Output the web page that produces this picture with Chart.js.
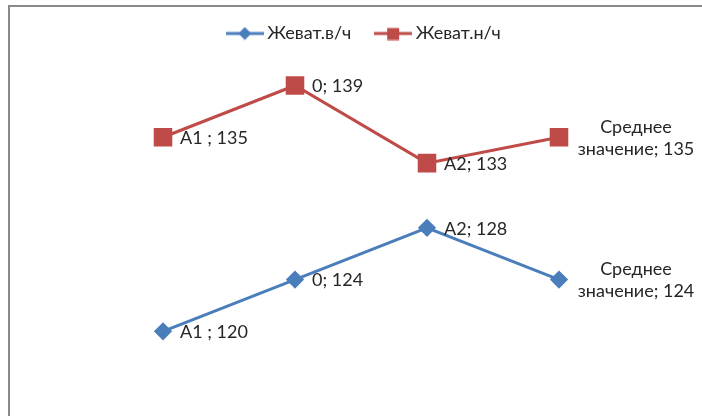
<!DOCTYPE html>
<html>
<head>
<meta charset="utf-8">
<script src="https://cdn.jsdelivr.net/npm/chart.js@4/dist/chart.umd.min.js"></script>
<style>
  html, body { margin: 0; padding: 0; background: #fff; overflow: hidden; }
  #frame {
    position: absolute; left: 8px; top: 5px; right: -10px; bottom: -10px;
    border-left: 2px solid #8a8a8a; border-top: 2px solid #8a8a8a;
  }
  #wrap { position: absolute; left: 0; top: 0; width: 702px; height: 416px; }
</style>
</head>
<body>
<div id="frame"></div>
<div id="wrap"><canvas id="bpChart"></canvas></div>
<script>
const categories = ['A1 ', '0', 'A2', ['Среднее', 'значение']];
const seriesNames = ['Жеват.в/ч', 'Жеват.н/ч'];
const upperValues = [120, 124, 128, 124];
const lowerValues = [135, 139, 133, 135];

const BLUE = '#4a7ebb';
const RED = '#be4b48';
const FONT = 'Lato, "Open Sans", sans-serif';

// little line+marker icons for the legend
function legendIcon(color, shape) {
  const c = document.createElement('canvas');
  c.width = 38; c.height = 14;
  const g = c.getContext('2d');
  g.strokeStyle = color;
  g.lineWidth = 3;
  g.beginPath(); g.moveTo(0, 7); g.lineTo(38, 7); g.stroke();
  g.fillStyle = color;
  g.beginPath();
  if (shape === 'diamond') {
    g.moveTo(19, 0.5); g.lineTo(25.5, 7); g.lineTo(19, 13.5); g.lineTo(12.5, 7);
  } else {
    g.rect(13, 1.5, 12, 12);
  }
  g.fill();
  return c;
}
const icons = [legendIcon(BLUE, 'diamond'), legendIcon(RED, 'square')];

// "category; value" labels next to each point
const valueLabels = {
  id: 'valueLabels',
  afterDatasetsDraw(chart) {
    const ctx = chart.ctx;
    ctx.save();
    ctx.font = '18px ' + FONT;
    ctx.fillStyle = '#262626';
    ctx.textBaseline = 'middle';
    chart.data.datasets.forEach((ds, i) => {
      chart.getDatasetMeta(i).data.forEach((pt, j) => {
        const cat = chart.data.labels[j];
        const v = ds.data[j];
        if (Array.isArray(cat)) {
          const lines = cat.slice(0, -1).concat(cat[cat.length - 1] + '; ' + v);
          ctx.textAlign = 'center';
          lines.forEach((ln, k) => ctx.fillText(ln, pt.x + 77, pt.y - 10 + k * 22));
        } else {
          ctx.textAlign = 'left';
          ctx.fillText(cat + '; ' + v, pt.x + 17, pt.y + 1);
        }
      });
    });
    ctx.restore();
  }
};

new Chart(document.getElementById('bpChart'), {
  type: 'line',
  data: {
    labels: categories,
    datasets: [
      {
        label: seriesNames[0],
        data: upperValues,
        borderColor: BLUE,
        backgroundColor: BLUE,
        borderWidth: 3,
        pointStyle: 'rectRot',
        pointRadius: 7,
        pointHoverRadius: 7,
        tension: 0,
        clip: false
      },
      {
        label: seriesNames[1],
        data: lowerValues,
        borderColor: RED,
        backgroundColor: RED,
        borderWidth: 3,
        pointStyle: 'rect',
        pointRadius: 11,
        pointHoverRadius: 11,
        tension: 0,
        clip: false
      }
    ]
  },
  options: {
    responsive: true,
    maintainAspectRatio: false,
    animation: false,
    layout: { autoPadding: false, padding: { left: 97, right: 67, top: -4, bottom: 7 } },
    scales: {
      x: { display: false, offset: true },
      // invisible value axis; sits on the right so the legend centres a bit further over
      y: {
        position: 'right',
        min: 114,
        max: 141.55,
        grid: { display: false },
        border: { display: false },
        ticks: { display: false },
        afterFit: (scale) => { scale.width = 10; }
      }
    },
    plugins: {
      tooltip: { enabled: false },
      legend: {
        position: 'top',
        labels: {
          usePointStyle: true,
          pointStyleWidth: 27,
          padding: 28.5,
          color: '#262626',
          font: { family: FONT, size: 18 },
          generateLabels: (chart) => {
            const items = Chart.defaults.plugins.legend.labels.generateLabels(chart);
            items.forEach((it, i) => { it.pointStyle = icons[i]; });
            return items;
          }
        }
      }
    }
  },
  plugins: [valueLabels]
});
</script>
</body>
</html>
